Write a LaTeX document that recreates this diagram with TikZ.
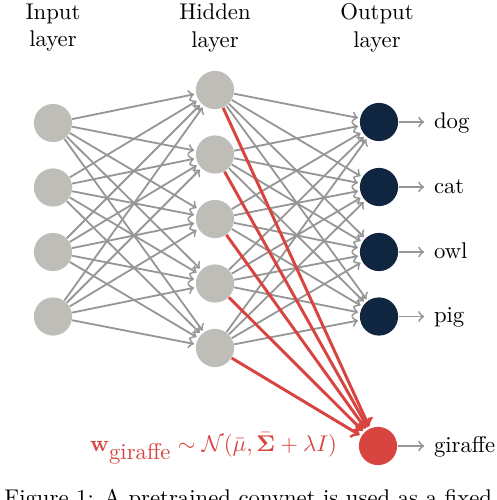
\documentclass[tikz,border=0pt]{standalone}
\usepackage{amsmath}
\usetikzlibrary{positioning}

\definecolor{nodegray}{RGB}{190,189,184}
\definecolor{outnavy}{RGB}{16,37,63}
\definecolor{girred}{RGB}{216,68,63}
\definecolor{edgegray}{RGB}{150,150,150}

\tikzset{
  neuron/.style={circle, fill=nodegray, minimum size=16.8pt, inner sep=0pt},
  outneuron/.style={neuron, fill=outnavy},
  girneuron/.style={neuron, fill=girred},
  layerlabel/.style={anchor=north, align=center, inner sep=0pt},
  classlabel/.style={anchor=west, text height=1.5ex, text depth=.25ex},
  edge/.style={->, edgegray, line width=0.8pt, shorten >=0.8pt},
  redge/.style={->, girred, line width=1.3pt, shorten >=0.8pt},
}

\begin{document}
\begin{tikzpicture}[x=0.44pt, y=-0.44pt]
        \useasboundingbox (0,0) rectangle (496,500);

        % layer titles
        \node[layerlabel] (tin) at (53,3.5) {Input\\layer};
        \node[layerlabel] (thid) at (215,3.5) {Hidden\\layer};
        \node[layerlabel] (tout) at (377,3.5) {Output\\layer};

        % input layer
        \foreach \i/\y in {1/123,2/187.5,3/252,4/316.5}
            \node[neuron] (in\i) at (53,\y) {};
        % hidden layer
        \foreach \i/\y in {1/90,2/154.5,3/219,4/283.5,5/348}
            \node[neuron] (hid\i) at (215,\y) {};
        % output layer
        \foreach \i/\y/\t in {1/122/dog,2/187/cat,3/252/owl,4/316.5/pig}{
            \node[outneuron] (out\i) at (379,\y) {};
            \node[classlabel] (lab\i) at (426,\y) {\t};
            \draw[edge] (out\i) -- (lab\i);
        }

        % new class
        \node[girneuron] (gir) at (378,446) {};
        \node[classlabel] (labgir) at (426,446) {giraffe};
        \draw[edge] (gir) -- (labgir);

        % connections
        \foreach \i in {1,...,4}
            \foreach \j in {1,...,5}
                \draw[edge] (in\i) -- (hid\j);
        \foreach \j in {1,...,5}
            \foreach \k in {1,...,4}
                \draw[edge] (hid\j) -- (out\k);
        \foreach \j in {1,...,5}
            \draw[redge] (hid\j) -- (gir);

        % weight prior
        \node[anchor=base east, text=girred] (prior) at (345,451)
            {$\mathbf{w}_{\mbox{giraffe}} \sim \mathcal{N}(\bar{\mu}, \bar{\mathbf{\Sigma}} + \lambda I)$};

        % caption (cut off)
        \node[anchor=base west, inner sep=0pt] (cap) at (4,505)
            {Figure 1: A pretrained convnet is used as a fixed};
    \end{tikzpicture}
\end{document}
